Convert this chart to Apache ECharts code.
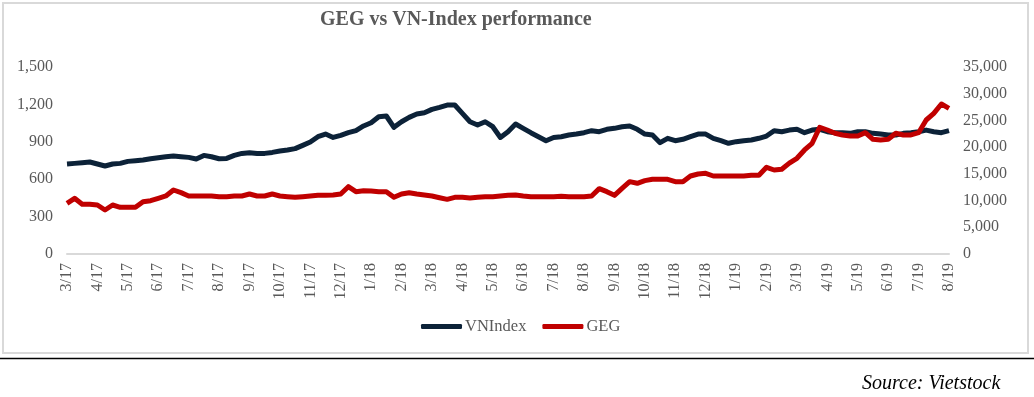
<!DOCTYPE html>
<html lang="en">
<head>
    <meta charset="UTF-8">
    <title>GEG vs VN-Index performance</title>
    <script src="https://cdn.jsdelivr.net/npm/echarts@6/dist/echarts.min.js"></script>
    <style>
        body { margin: 0; background: #fff; }
        #main { width: 1034px; height: 397px; }
    </style>
</head>
<body>
<div id="main"></div>
<script>
    // month labels on the x axis (one every 4 samples, roughly weekly data)
    var monthLabels = ['3/17', '4/17', '5/17', '6/17', '7/17', '8/17', '9/17', '10/17', '11/17', '12/17',
        '1/18', '2/18', '3/18', '4/18', '5/18', '6/18', '7/18', '8/18', '9/18', '10/18',
        '11/18', '12/18', '1/19', '2/19', '3/19', '4/19', '5/19', '6/19', '7/19', '8/19'];

    // VN-Index, left axis
    var vnIndex = [722, 727, 732, 738, 722, 706, 722, 727, 743, 748,
        754, 764, 772, 780, 786, 780, 775, 762, 791, 780,
        764, 767, 791, 807, 812, 807, 807, 815, 826, 834,
        845, 871, 898, 941, 962, 935, 952, 973, 990, 1027,
        1053, 1101, 1107, 1016, 1061, 1096, 1123, 1133, 1160, 1176,
        1195, 1195, 1128, 1061, 1035, 1061, 1021, 935, 981, 1043,
        1008, 973, 941, 909, 935, 941, 954, 962, 973, 989,
        981, 1000, 1008, 1021, 1027, 1000, 962, 954, 893, 928,
        909, 920, 941, 962, 962, 928, 909, 888, 901, 909,
        914, 928, 946, 989, 981, 994, 1000, 973, 994, 1000,
        981, 973, 973, 968, 981, 981, 968, 962, 954, 954,
        968, 973, 981, 994, 981, 973, 989];

    // GEG price, right axis
    var geg = [9490, 10420, 9300, 9300, 9170, 8240, 9170, 8740, 8740, 8740,
        9790, 9980, 10420, 10860, 11980, 11480, 10860, 10860, 10860, 10860,
        10730, 10730, 10860, 10860, 11230, 10860, 10860, 11230, 10860, 10730,
        10610, 10730, 10860, 10980, 10980, 11040, 11230, 12600, 11670, 11850,
        11790, 11670, 11670, 10610, 11230, 11480, 11230, 11040, 10860, 10540,
        10230, 10610, 10610, 10480, 10610, 10730, 10730, 10860, 10980, 11040,
        10860, 10730, 10730, 10730, 10730, 10790, 10730, 10730, 10730, 10860,
        12230, 11670, 10980, 12290, 13540, 13230, 13730, 13980, 13980, 13980,
        13540, 13540, 14600, 14980, 15100, 14600, 14600, 14600, 14600, 14600,
        14730, 14730, 16230, 15720, 15850, 17000, 17910, 19470, 20720, 23720,
        23210, 22590, 22280, 22090, 22090, 22710, 21470, 21340, 21470, 22590,
        22280, 22280, 22710, 25080, 26330, 28080, 27270];

    // category for every sample, month label on every 4th one
    var categories = vnIndex.map(function (v, i) {
        return i % 4 === 0 ? monthLabels[i / 4] : '';
    });

    var serif = 'Liberation Serif';
    var grey = '#595959';

    var myChart = echarts.init(document.getElementById('main'));

    var option = {
        animation: false,
        backgroundColor: '#fff',
        textStyle: { fontFamily: serif },
        title: [{
            text: 'GEG vs VN-Index performance',
            left: 320,
            top: 10,
            padding: 0,
            textStyle: { fontFamily: serif, fontSize: 20, fontWeight: 'bold', color: grey }
        }, {
            text: 'Source: Vietstock',
            left: 862,
            top: 374,
            padding: 0,
            textStyle: { fontFamily: serif, fontSize: 20, fontStyle: 'italic', fontWeight: 'normal', color: '#000' }
        }],
        legend: {
            left: 421,
            top: 318,
            padding: 0,
            icon: 'roundRect',
            itemWidth: 41,
            itemHeight: 5,
            itemGap: 16,
            textStyle: { fontFamily: serif, fontSize: 16.5, color: grey, padding: [0, 0, 0, -2] },
            data: ['VNIndex', 'GEG']
        },
        grid: { left: 67, right: 85, top: 67, bottom: 143 },
        xAxis: {
            type: 'category',
            boundaryGap: false,
            data: categories,
            axisLine: { lineStyle: { color: '#d9d9d9', width: 2 } },
            axisTick: { show: false },
            axisLabel: {
                interval: 3,
                rotate: 90,
                margin: 9,
                fontFamily: serif,
                fontSize: 16,
                color: grey
            }
        },
        yAxis: [{
            type: 'value',
            min: 0,
            max: 1500,
            interval: 300,
            splitLine: { show: false },
            axisLine: { show: false },
            axisTick: { show: false },
            axisLabel: {
                margin: 14,
                fontFamily: serif,
                fontSize: 16,
                color: grey,
                formatter: function (v) { return v.toLocaleString('en-US'); }
            }
        }, {
            type: 'value',
            min: 0,
            max: 35000,
            interval: 5000,
            splitLine: { show: false },
            axisLine: { show: false },
            axisTick: { show: false },
            axisLabel: {
                margin: 14,
                fontFamily: serif,
                fontSize: 16,
                color: grey,
                formatter: function (v) { return v.toLocaleString('en-US'); }
            }
        }],
        graphic: [{
            type: 'rect',
            shape: { x: 3, y: 3, width: 1025, height: 350 },
            style: { fill: 'none', stroke: '#d9d9d9', lineWidth: 2 },
            z: -1
        }, {
            type: 'line',
            shape: { x1: 0, y1: 358.5, x2: 1034, y2: 358.5 },
            style: { stroke: '#000', lineWidth: 1.5 }
        }],
        series: [{
            name: 'VNIndex',
            type: 'line',
            yAxisIndex: 0,
            data: vnIndex,
            symbol: 'none',
            color: '#0c2238',
            lineStyle: { width: 5, color: '#0c2238', join: 'round' }
        }, {
            name: 'GEG',
            type: 'line',
            yAxisIndex: 1,
            data: geg,
            symbol: 'none',
            color: '#c00000',
            lineStyle: { width: 5, color: '#c00000', join: 'round' }
        }]
    };

    myChart.setOption(option);
</script>
</body>
</html>
